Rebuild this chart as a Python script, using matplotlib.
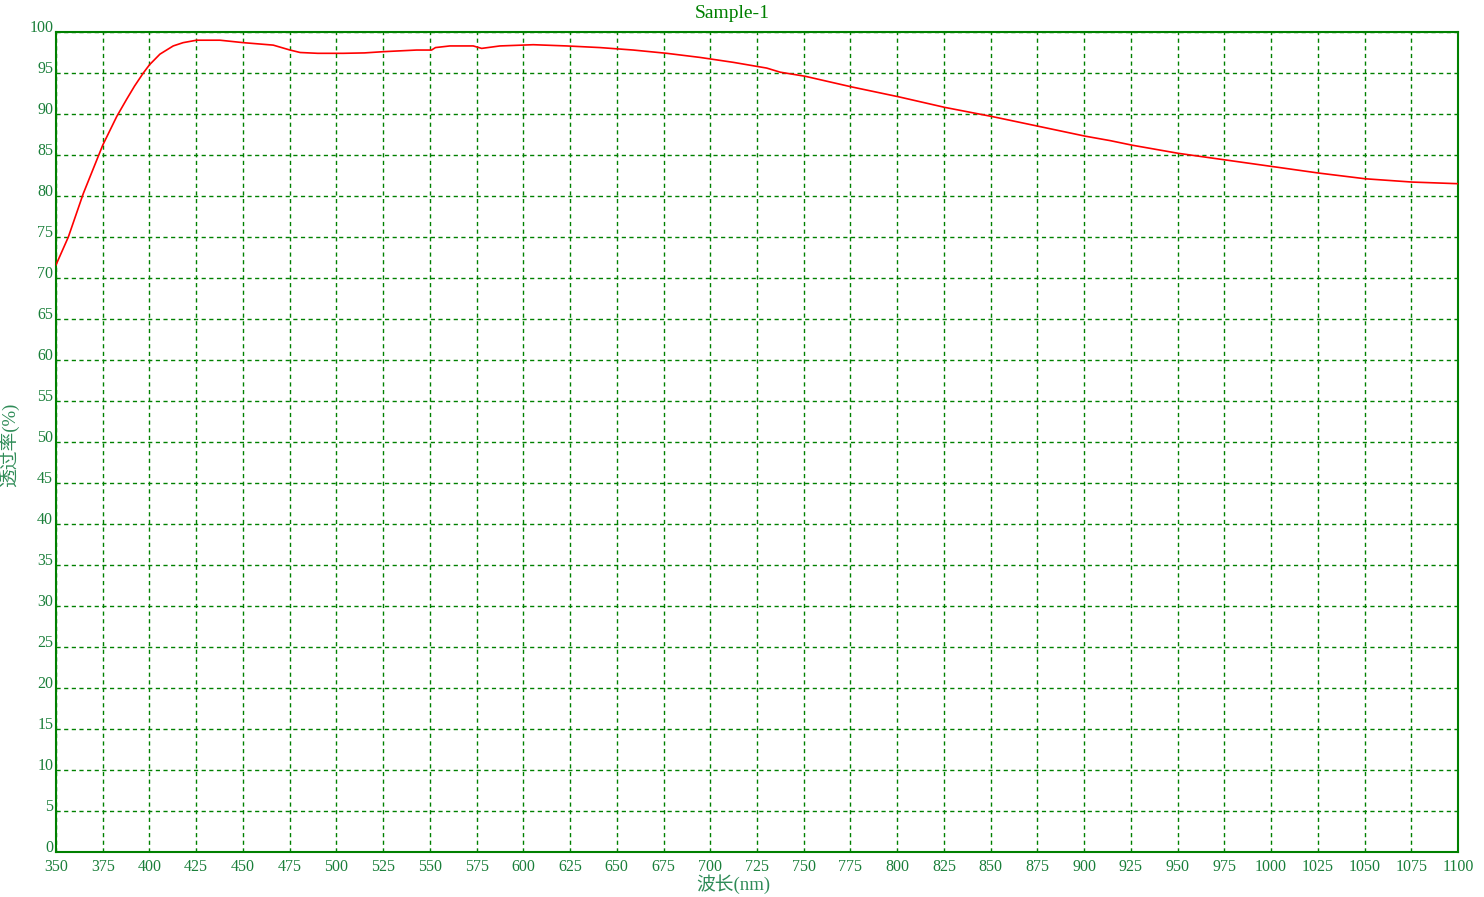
import matplotlib
matplotlib.use("Agg")
import matplotlib.pyplot as plt
from matplotlib.ticker import MultipleLocator

plt.rcParams['font.family'] = ['Liberation Serif', 'Noto Sans CJK SC', 'DejaVu Sans']

title = "Sample-1"
xlabel = "波长(nm)"
ylabel = "透过率(%)"

wavelength = [350, 356.6, 364.6, 375, 382.5, 387.8, 392, 396.7, 400, 405.6, 412.7, 418,
              425.2, 437.7, 450.2, 466.2, 475.2, 480.6, 490, 500.2, 503.7, 515, 525.1,
              542.9, 550.9, 553, 560.7, 573.2, 577.7, 587.5, 605.3, 623.2, 641,
              658.8, 676.7, 694.5, 712.3, 730.2, 737.4, 750.8, 775.7, 800.7, 825.6,
              850.6, 875.6, 900.5, 914, 925.6, 950.5, 975.5, 1000.5, 1025.4, 1050.4,
              1075.4, 1100]
transmittance = [71.6, 75.0, 80.3, 86.2, 89.7, 91.8, 93.4, 95.0, 96.0, 97.3, 98.3, 98.7,
                 99.0, 99.0, 98.7, 98.4, 97.8, 97.5, 97.4, 97.4, 97.4, 97.45, 97.6,
                 97.8, 97.8, 98.1, 98.3, 98.3, 98.0, 98.3, 98.45, 98.3, 98.1,
                 97.8, 97.4, 96.9, 96.3, 95.6, 95.1, 94.6, 93.3, 92.1, 90.8,
                 89.7, 88.5, 87.3, 86.75, 86.2, 85.2, 84.4, 83.6, 82.8, 82.1,
                 81.7, 81.5]

W, H = 1484, 897
fig = plt.figure(figsize=(W / 100, H / 100), dpi=100)
ax = fig.add_axes([56 / W, 1 - 852 / H, (1458 - 56) / W, (852 - 32) / H])

green = '#008000'
textc = '#1a7f3a'

ax.plot(wavelength, transmittance, color='#ff0000', lw=1.2, zorder=3)

ax.set_xlim(350, 1100)
ax.set_ylim(0, 100)
ax.xaxis.set_major_locator(MultipleLocator(25))
ax.yaxis.set_major_locator(MultipleLocator(5))
ax.grid(True, color=green, linestyle=(0, (3, 2.5)), lw=1.0)
for s in ax.spines.values():
    s.set_color(green)
    s.set_linewidth(1.5)

ax.tick_params(axis='both', length=0, colors=textc, labelsize=11.5)
ax.tick_params(axis='x', pad=5)
ax.tick_params(axis='y', pad=2)
for lbl in ax.get_yticklabels():
    lbl.set_verticalalignment('baseline')

fig.text(732 / W, 1 - 13 / H, title, color=green, fontsize=14, ha='center', va='center')
fig.text(733 / W, 1 - 884 / H, xlabel, color='#2e8b57', fontsize=13.5, ha='center', va='center')
fig.text(9 / W, 1 - 445 / H, ylabel, color='#2e8b57', fontsize=13.5, ha='center', va='center', rotation=90)

fig.savefig("out.png", dpi=100)
